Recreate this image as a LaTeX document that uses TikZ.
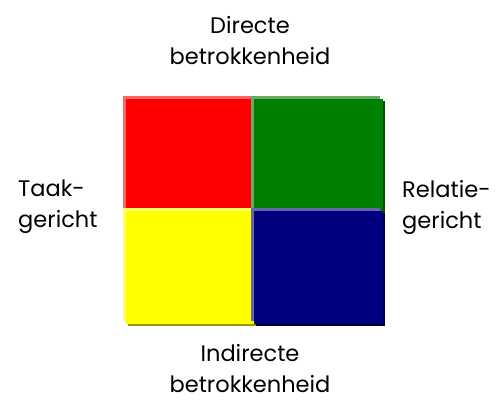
\documentclass[tikz,border=0pt]{standalone}
\usepackage{fontspec}
\setmainfont{Poppins}
\definecolor{redmain}{HTML}{FF0000}
\definecolor{redlight}{HTML}{FF6666}
\definecolor{greenmain}{HTML}{008000}
\definecolor{greenlight}{HTML}{66AA66}
\definecolor{greendark}{HTML}{004D00}
\definecolor{yellowmain}{HTML}{FFFF00}
\definecolor{yellowlight}{HTML}{FFFF66}
\definecolor{yellowdark}{HTML}{999900}
\definecolor{navy}{HTML}{000080}
\definecolor{navylight}{HTML}{6666AA}
\definecolor{navydark}{HTML}{000033}
\begin{document}
\begin{tikzpicture}[x=1pt,y=-1pt,
  cell/.style={anchor=north west, inner sep=0pt, outer sep=0pt, minimum width=128pt, minimum height=112pt},
  label/.style={font=\fontsize{22.5}{31}\selectfont, inner sep=0pt}]
\useasboundingbox (0,0) rectangle (502,401);

% red block
\node[cell, fill=redlight] (redhl) at (123,96) {};
\node[cell, fill=redmain] (red) at (126,99) {};

% green block
\node[cell, fill=greendark, minimum width=129pt] (greensh) at (256,101) {};
\node[cell, fill=greenlight, minimum width=129pt] (greenhl) at (251,96) {};
\node[cell, fill=greenmain, minimum width=129pt] (green) at (254,99) {};

% yellow block
\node[cell, fill=yellowdark, minimum height=113pt] (yellowsh) at (128,213) {};
\node[cell, fill=yellowlight, minimum height=113pt] (yellowhl) at (123,208) {};
\node[cell, fill=yellowmain, minimum height=113pt] (yellow) at (126,211) {};

% blue block
\node[cell, fill=navydark, minimum width=129pt, minimum height=113pt] (bluesh) at (256,213) {};
\node[cell, fill=navylight, minimum width=129pt, minimum height=113pt] (bluehl) at (251,208) {};
\node[cell, fill=navy, minimum width=129pt, minimum height=113pt] (blue) at (254,211) {};

% labels
\node[label, align=center] (direct) at (250,41) {Directe\\betrokkenheid};
\node[label, align=center] (indirect) at (250,369) {Indirecte\\betrokkenheid};
\node[label, align=left, anchor=west] (taak) at (18,207) {Taak-\\gericht};
\node[label, align=left, anchor=west] (relatie) at (402,207) {Relatie-\\gericht};
\end{tikzpicture}
\end{document}
